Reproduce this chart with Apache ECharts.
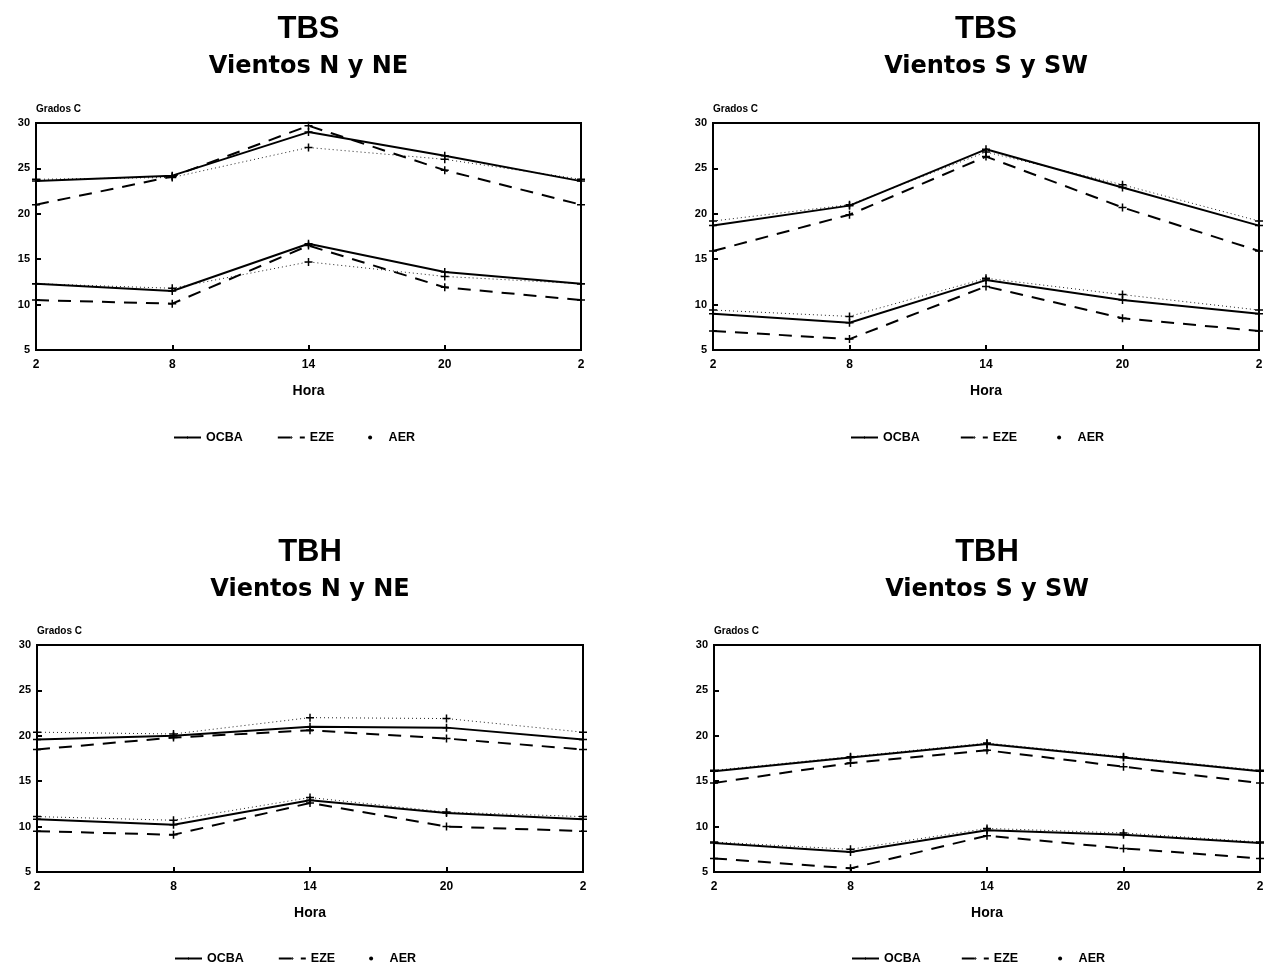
<!DOCTYPE html>
<html>
<head>
<meta charset="utf-8">
<script src="https://cdn.jsdelivr.net/npm/echarts@6/dist/echarts.min.js"></script>
<style>html,body{margin:0;padding:0;background:#fff}#c{width:1276px;height:965px}</style>
</head>
<body>
<div id="c"></div>
<script>
// ---- data ----
const hours = ['2', '8', '14', '20', '2'];
const seriesNames = ['OCBA', 'EZE', 'AER'];
const panelTitles = ['TBS', 'TBS', 'TBH', 'TBH'];
const panelSubtitles = ['Vientos N y NE', 'Vientos S y SW', 'Vientos N y NE', 'Vientos S y SW'];
const yLabel = 'Grados C';
const xLabel = 'Hora';

// TBS, vientos N y NE (upper = max, lower = min)
const tbsN_ocba_hi = [23.6, 24.2, 29.0, 26.4, 23.6];
const tbsN_eze_hi  = [21.0, 24.1, 29.7, 24.8, 21.0];
const tbsN_aer_hi  = [23.8, 24.0, 27.3, 26.0, 23.8];
const tbsN_ocba_lo = [12.3, 11.5, 16.7, 13.6, 12.3];
const tbsN_eze_lo  = [10.5, 10.1, 16.5, 11.9, 10.5];
const tbsN_aer_lo  = [12.3, 11.8, 14.7, 13.1, 12.3];

// TBS, vientos S y SW
const tbsS_ocba_hi = [18.7, 20.9, 27.1, 22.9, 18.7];
const tbsS_eze_hi  = [15.9, 19.9, 26.3, 20.7, 15.9];
const tbsS_aer_hi  = [19.2, 21.0, 26.8, 23.2, 19.2];
const tbsS_ocba_lo = [9.0, 8.0, 12.7, 10.5, 9.0];
const tbsS_eze_lo  = [7.1, 6.2, 12.0, 8.5, 7.1];
const tbsS_aer_lo  = [9.4, 8.7, 12.9, 11.1, 9.4];

// TBH, vientos N y NE
const tbhN_ocba_hi = [19.6, 20.0, 21.0, 20.9, 19.6];
const tbhN_eze_hi  = [18.5, 19.8, 20.6, 19.7, 18.5];
const tbhN_aer_hi  = [20.4, 20.2, 22.0, 21.9, 20.4];
const tbhN_ocba_lo = [10.8, 10.2, 12.9, 11.5, 10.8];
const tbhN_eze_lo  = [9.5, 9.1, 12.6, 10.0, 9.5];
const tbhN_aer_lo  = [11.1, 10.7, 13.2, 11.6, 11.1];

// TBH, vientos S y SW
const tbhS_ocba_hi = [16.1, 17.6, 19.1, 17.6, 16.1];
const tbhS_eze_hi  = [14.8, 17.0, 18.4, 16.6, 14.8];
const tbhS_aer_hi  = [16.2, 17.7, 19.2, 17.7, 16.2];
const tbhS_ocba_lo = [8.2, 7.2, 9.6, 9.1, 8.2];
const tbhS_eze_lo  = [6.5, 5.4, 9.0, 7.6, 6.5];
const tbhS_aer_lo  = [8.3, 7.5, 9.8, 9.3, 8.3];

const yMin = 5, yMax = 30, yStep = 5;

const panelData = [
  [tbsN_ocba_hi, tbsN_eze_hi, tbsN_aer_hi, tbsN_ocba_lo, tbsN_eze_lo, tbsN_aer_lo],
  [tbsS_ocba_hi, tbsS_eze_hi, tbsS_aer_hi, tbsS_ocba_lo, tbsS_eze_lo, tbsS_aer_lo],
  [tbhN_ocba_hi, tbhN_eze_hi, tbhN_aer_hi, tbhN_ocba_lo, tbhN_eze_lo, tbhN_aer_lo],
  [tbhS_ocba_hi, tbhS_eze_hi, tbhS_aer_hi, tbhS_ocba_lo, tbhS_eze_lo, tbhS_aer_lo]
];

// ---- layout ----
const grids = [
  {left: 36, top: 123, width: 545, height: 227},
  {left: 713, top: 123, width: 546, height: 227},
  {left: 37, top: 645, width: 546, height: 227},
  {left: 714, top: 645, width: 546, height: 227}
];
const titleTops = [14, 14, 537, 537];
const subTops = [55, 55, 578, 578];
const legendTops = [426, 426, 947, 947];

const FONT = '"Liberation Sans", Arial, sans-serif';
const plus = 'path://M3.25,0 h1.5 v3.25 h3.25 v1.5 h-3.25 v3.25 h-1.5 v-3.25 h-3.25 v-1.5 h3.25 z';

const styles = {
  OCBA: {type: 'solid', width: 2, color: '#000'},
  EZE: {type: [13, 9], width: 2, color: '#000'},
  AER: {type: [1, 3], width: 1, color: '#222'}
};

const option = {
  backgroundColor: '#fff',
  animation: false,
  grid: grids.map(g => Object.assign({show: true, borderColor: '#000', borderWidth: 2, backgroundColor: 'transparent'}, g)),
  xAxis: grids.map((g, i) => ({
    type: 'category', gridIndex: i, data: hours, boundaryGap: false,
    axisLine: {lineStyle: {color: '#000', width: 2}},
    axisTick: {inside: true, length: 5, lineStyle: {color: '#000', width: 2}},
    axisLabel: {color: '#000', fontFamily: FONT, fontWeight: 'bold', fontSize: 12, margin: 9},
    splitLine: {show: false},
    name: xLabel, nameLocation: 'middle', nameGap: 34,
    nameTextStyle: {color: '#000', fontFamily: FONT, fontWeight: 'bold', fontSize: 14}
  })),
  yAxis: grids.map((g, i) => ({
    type: 'value', gridIndex: i, min: yMin, max: yMax, interval: yStep,
    axisLine: {show: true, lineStyle: {color: '#000', width: 2}},
    axisTick: {show: true, inside: true, length: 5, lineStyle: {color: '#000', width: 2}},
    axisLabel: {color: '#000', fontFamily: FONT, fontWeight: 'bold', fontSize: 11, margin: 6},
    splitLine: {show: false},
    name: yLabel, nameLocation: 'end', nameGap: 9,
    nameTextStyle: {color: '#000', fontFamily: FONT, fontWeight: 'bold', fontSize: 10, align: 'left'}
  })),
  legend: grids.map((g, i) => ({
    left: g.left + 132, top: legendTops[i],
    itemWidth: 27, itemHeight: 4, itemGap: i % 2 ? 40 : 34,
    selectedMode: false,
    textStyle: {color: '#000', fontFamily: FONT, fontWeight: 'bold', fontSize: 12.5},
    data: [
      {name: 'OCBA'},
      {name: 'EZE'},
      {name: 'AER', icon: 'circle', lineStyle: {opacity: 0}}
    ]
  })),
  graphic: [],
  series: []
};

grids.forEach((g, i) => {
  const cx = g.left + g.width / 2;
  option.graphic.push({type: 'text', x: cx, y: titleTops[i],
    style: {text: panelTitles[i], textAlign: 'center', fill: '#000', font: 'bold 31px ' + FONT}});
  option.graphic.push({type: 'text', x: cx, y: subTops[i],
    style: {text: panelSubtitles[i], textAlign: 'center', fill: '#000', font: 'bold 24px "DejaVu Sans", sans-serif'}});
  panelData[i].forEach((arr, k) => {
    const name = seriesNames[k % 3];
    option.series.push({
      type: 'line', name: name, xAxisIndex: i, yAxisIndex: i, data: arr,
      symbol: plus, symbolSize: 8, showSymbol: true,
      itemStyle: {color: '#000'},
      lineStyle: styles[name],
      z: name === 'AER' ? 1 : 2
    });
  });
});

const chart = echarts.init(document.getElementById('c'), null, {renderer: 'canvas'});
chart.setOption(option);
</script>
</body>
</html>
